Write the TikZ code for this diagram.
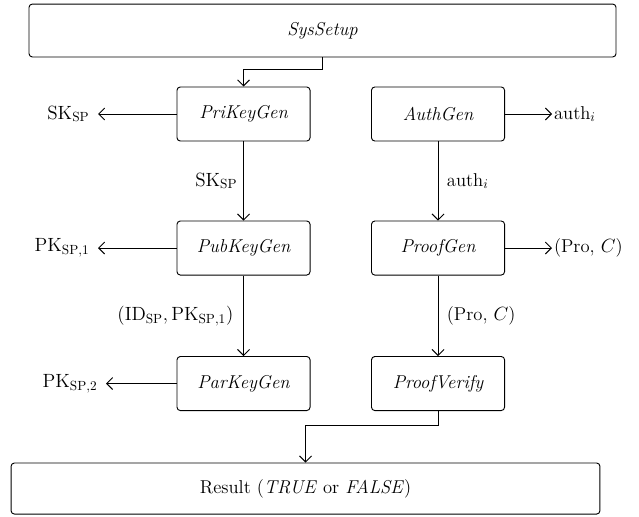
\documentclass[tikz,border=0pt]{standalone}
\usepackage{amsmath}
\usepackage{tikz}
\usetikzlibrary{arrows.meta,positioning}

\begin{document}
\begin{tikzpicture}[
  font=\fontsize{14}{16}\selectfont,
  proc/.style={draw, rounded corners=2.5pt, line width=0.7pt, minimum width=3.52cm, minimum height=1.43cm, align=center, font=\fontsize{14}{16}\selectfont\itshape},
  widebox/.style={proc, minimum width=15.53cm, minimum height=1.4cm},
  arrow/.style={-{Straight Barb[length=4.5pt,width=9pt]}, line width=0.7pt},
  leftout/.style={inner ysep=1pt, inner xsep=6.5pt, outer sep=0pt, anchor=east},
  rightout/.style={inner ysep=1pt, inner xsep=1.5pt, outer sep=0pt, anchor=west}
]
  \useasboundingbox (0,0) rectangle (16.906,-13.652);

  \node[widebox] (sys) at (8.533,-0.807) {SysSetup};

  \node[proc] (pri) at (6.443,-3.016) {PriKeyGen};
  \node[proc] (auth) at (11.589,-3.016) {AuthGen};
  \node[proc] (pub) at (6.443,-6.562) {PubKeyGen};
  \node[proc] (pgen) at (11.589,-6.562) {ProofGen};
  \node[proc] (par) at (6.443,-10.147) {ParKeyGen};
  \node[proc] (pver) at (11.589,-10.147) {ProofVerify};

  \node[widebox, minimum width=15.58cm, minimum height=1.35cm, font=\fontsize{14}{16}\selectfont] (res) at (8.083,-12.925) {Result (\textit{TRUE} or \textit{FALSE})};

  % outputs on the sides
  \node[leftout] (skout) at (2.593,-3.016) {$\mathrm{SK}_{\mathrm{SP}}$};
  \node[leftout] (pk1out) at (2.593,-6.562) {$\mathrm{PK}_{\mathrm{SP},1}$};
  \node[leftout] (pk2out) at (2.805,-10.147) {$\mathrm{PK}_{\mathrm{SP},2}$};
  \node[rightout] (authout) at (14.605,-3.016) {auth$_i$};
  \node[rightout] (proout) at (14.605,-6.562) {(Pro, $C$)};

  \draw[arrow] (pri.west) -- (skout.east);
  \draw[arrow] (pub.west) -- (pk1out.east);
  \draw[arrow] (par.west) -- (pk2out.east);
  \draw[arrow] (auth.east) -- (authout.west);
  \draw[arrow] (pgen.east) -- (proout.west);

  % flow
  \draw[arrow] (sys.south) -- ++(0,-0.32) -| (pri.north);
  \draw[arrow] (pri) -- node[left=1pt] {$\mathrm{SK}_{\mathrm{SP}}$} (pub);
  \draw[arrow] (pub) -- node[left=4pt] {$(\mathrm{ID}_{\mathrm{SP}}, \mathrm{PK}_{\mathrm{SP},1})$} (par);
  \draw[arrow] (auth) -- node[right=3pt] {auth$_i$} (pgen);
  \draw[arrow] (pgen) -- node[right=3pt] {(Pro, $C$)} (pver);
  \draw[arrow] (pver.south) -- ++(0,-0.37) -| (res.north);
\end{tikzpicture}
\end{document}
